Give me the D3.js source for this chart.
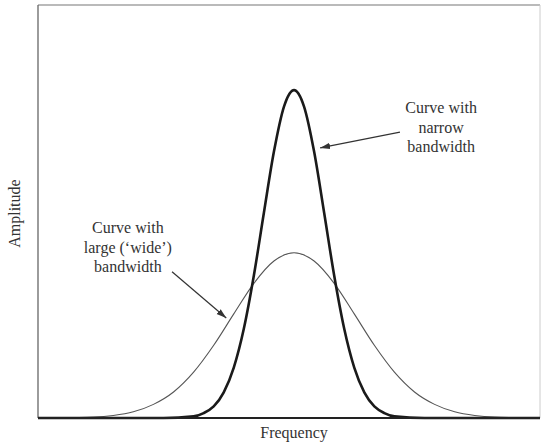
<!DOCTYPE html>
<html>
<head>
<meta charset="utf-8">
<script src="https://cdn.jsdelivr.net/npm/d3@7"></script>
<style>
  body { margin: 0; background: #fff; }
  svg { display: block; }
  text { font-family: "Liberation Serif", "DejaVu Serif", serif; fill: #333; }
</style>
</head>
<body>
<svg id="chart"></svg>
<script>
// values (frequency 0-100, amplitude 0-100)
const narrowFreq = [0, 25, 31, 33, 35, 37, 39, 41, 43, 45, 47, 49, 51, 53, 55, 57, 59, 61, 63, 65, 67, 69, 71, 77, 100];
const narrowAmp = [0, 0, 0.4, 1.2, 2.8, 6.2, 12.2, 21.6, 34.5, 49.7, 64.5, 75.4, 79.4, 75.4, 64.5, 49.7, 34.5, 21.6, 12.2, 6.2, 2.8, 1.2, 0.4, 0, 0];

const wideFreq = [0, 7, 11, 15, 19, 23, 27, 31, 35, 39, 43, 47, 51, 55, 59, 63, 67, 71, 75, 79, 83, 87, 91, 95, 100];
const wideAmp = [0, 0.1, 0.2, 0.6, 1.5, 3.3, 6.3, 11.1, 17.6, 25.2, 32.6, 38.0, 40.0, 38.0, 32.6, 25.2, 17.6, 11.1, 6.3, 3.3, 1.5, 0.6, 0.2, 0.1, 0];

const xLabel = 'Frequency';
const yLabel = 'Amplitude';
const narrowNote = ['Curve with', 'narrow', 'bandwidth'];
const wideNote = ['Curve with', 'large (\u2018wide\u2019)', 'bandwidth'];

const width = 542;
const height = 444;
const margin = { top: 5, right: 2, bottom: 26, left: 38 };

const svg = d3.select('#chart').attr('width', width).attr('height', height);

const x = d3.scaleLinear().domain([0, 100]).range([margin.left, width - margin.right]);
const y = d3.scaleLinear().domain([0, 100]).range([height - margin.bottom, margin.top]);

const defs = svg.append('defs');
defs.append('marker')
  .attr('id', 'head')
  .attr('viewBox', '0 -4 10 8')
  .attr('refX', 10)
  .attr('refY', 0)
  .attr('markerWidth', 10)
  .attr('markerHeight', 8)
  .attr('markerUnits', 'userSpaceOnUse')
  .attr('orient', 'auto')
  .append('path')
  .attr('d', 'M0,-3.2L10,0L0,3.2Z')
  .attr('fill', '#333');

// frame
svg.append('line')
  .attr('x1', x(0)).attr('x2', x(100))
  .attr('y1', y(100)).attr('y2', y(100))
  .attr('stroke', '#777').attr('stroke-width', 1.2);
svg.append('line')
  .attr('x1', x(0)).attr('x2', x(0))
  .attr('y1', y(100)).attr('y2', y(0))
  .attr('stroke', '#666').attr('stroke-width', 1.3);
svg.append('line')
  .attr('x1', x(100)).attr('x2', x(100))
  .attr('y1', y(100)).attr('y2', y(0))
  .attr('stroke', '#ccc').attr('stroke-width', 1);

const line = d3.line()
  .x(d => x(d[0]))
  .y(d => y(d[1]))
  .curve(d3.curveMonotoneX);

svg.append('path')
  .datum(d3.zip(wideFreq, wideAmp))
  .attr('d', line)
  .attr('fill', 'none')
  .attr('stroke', '#555')
  .attr('stroke-width', 1.1);

svg.append('path')
  .datum(d3.zip(narrowFreq, narrowAmp))
  .attr('d', line)
  .attr('fill', 'none')
  .attr('stroke', '#1a1a1a')
  .attr('stroke-width', 2.6)
  .attr('stroke-linejoin', 'round');

// baseline
svg.append('line')
  .attr('x1', x(0)).attr('x2', x(100))
  .attr('y1', y(0)).attr('y2', y(0))
  .attr('stroke', '#222').attr('stroke-width', 2.2);

// axis titles
svg.append('text')
  .attr('x', x(51))
  .attr('y', height - 6)
  .attr('text-anchor', 'middle')
  .attr('font-size', 16)
  .text(xLabel);

svg.append('text')
  .attr('transform', `translate(20,${y(49.5)}) rotate(-90)`)
  .attr('text-anchor', 'middle')
  .attr('font-size', 16)
  .text(yLabel);

// annotations
function note(lines, cx, top) {
  svg.append('text')
    .attr('text-anchor', 'middle')
    .attr('font-size', 16)
    .selectAll('tspan')
    .data(lines)
    .join('tspan')
    .attr('x', cx)
    .attr('y', (d, i) => top + i * 19.5)
    .text(d => d);
}
note(narrowNote, x(80.3), 113);
note(wideNote, x(17.9), 233);

svg.append('line')
  .attr('x1', x(72.1)).attr('y1', y(69.2))
  .attr('x2', x(56.2)).attr('y2', y(65.4))
  .attr('stroke', '#333').attr('stroke-width', 1.2)
  .attr('marker-end', 'url(#head)');

svg.append('line')
  .attr('x1', x(26.7)).attr('y1', y(35.4))
  .attr('x2', x(37.5)).attr('y2', y(24.2))
  .attr('stroke', '#333').attr('stroke-width', 1.2)
  .attr('marker-end', 'url(#head)');
</script>
</body>
</html>
